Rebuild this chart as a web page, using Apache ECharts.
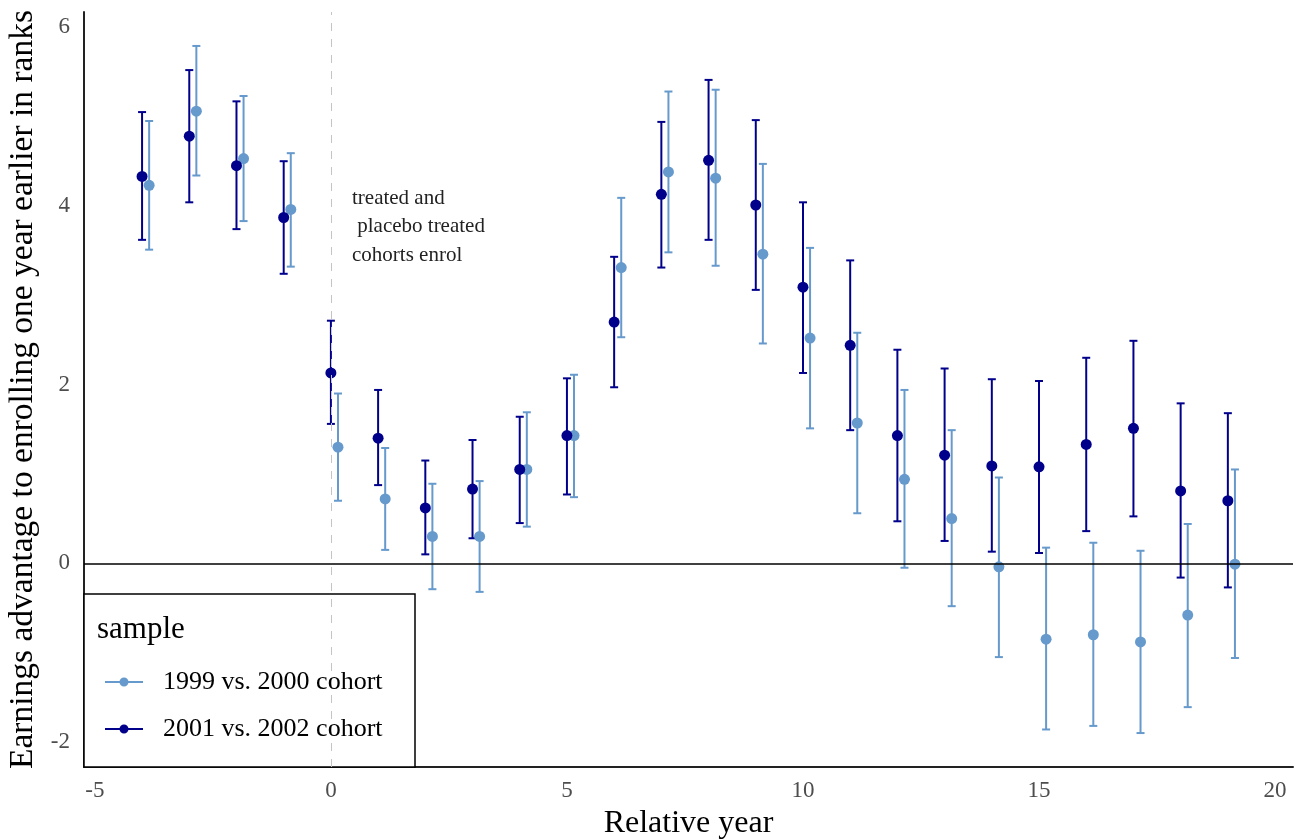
<!DOCTYPE html>
<html style="height: 100%">
<head>
    <meta charset="utf-8">
</head>
<body style="height: 100%; margin: 0">
<div id="container" style="width: 1302px; height: 839px"></div>
<script type="text/javascript" src="https://cdn.jsdelivr.net/npm/echarts@6/dist/echarts.min.js"></script>
<script type="text/javascript">
    // relative years
    var years = [-4, -3, -2, -1, 0, 1, 2, 3, 4, 5, 6, 7, 8, 9, 10, 11, 12, 13, 14, 15, 16, 17, 18, 19];

    // 1999 vs. 2000 cohort (placebo)
    var est9900 = [4.23, 5.06, 4.53, 3.96, 1.30, 0.72, 0.30, 0.30, 1.05, 1.43, 3.31, 4.38, 4.31, 3.46, 2.52, 1.57, 0.94, 0.50, -0.04, -0.85, -0.80, -0.88, -0.58, -0.01];
    var lo9900 = [3.51, 4.34, 3.83, 3.32, 0.70, 0.15, -0.29, -0.32, 0.41, 0.74, 2.53, 3.48, 3.33, 2.46, 1.51, 0.56, -0.05, -0.48, -1.05, -1.86, -1.82, -1.90, -1.61, -1.06];
    var hi9900 = [4.95, 5.79, 5.23, 4.59, 1.90, 1.29, 0.89, 0.92, 1.69, 2.11, 4.09, 5.28, 5.30, 4.47, 3.53, 2.58, 1.94, 1.49, 0.96, 0.175, 0.23, 0.14, 0.44, 1.05];

    // 2001 vs. 2002 cohort (treated)
    var est0102 = [4.33, 4.78, 4.45, 3.87, 2.13, 1.40, 0.62, 0.83, 1.05, 1.43, 2.70, 4.13, 4.51, 4.01, 3.09, 2.44, 1.43, 1.21, 1.09, 1.08, 1.33, 1.51, 0.81, 0.70];
    var lo0102 = [3.62, 4.04, 3.74, 3.24, 1.56, 0.875, 0.10, 0.28, 0.45, 0.77, 1.97, 3.31, 3.62, 3.06, 2.13, 1.49, 0.47, 0.25, 0.13, 0.115, 0.36, 0.525, -0.16, -0.27];
    var hi0102 = [5.05, 5.52, 5.17, 4.50, 2.715, 1.94, 1.15, 1.38, 1.64, 2.07, 3.43, 4.94, 5.41, 4.96, 4.04, 3.39, 2.39, 2.18, 2.06, 2.04, 2.30, 2.49, 1.79, 1.68];

    var xTicks = [-5, 0, 5, 10, 15, 20];
    var yTicks = [-2, 0, 2, 4, 6];

    var names = ['1999 vs. 2000 cohort', '2001 vs. 2002 cohort'];
    var LIGHT = '#6699cc';
    var DARK = '#00008b';
    var SHIFT = 0.15; // dodge for the placebo cohort
    var FONT = 'Liberation Serif';

    function points(est, shift) {
        return years.map(function (y, i) { return [y + shift, est[i]]; });
    }
    function bars(lo, hi, shift) {
        return years.map(function (y, i) { return [y + shift, lo[i], hi[i]]; });
    }

    function errorBar(color) {
        return function (params, api) {
            var top = api.coord([api.value(0), api.value(2)]);
            var bot = api.coord([api.value(0), api.value(1)]);
            var w = 4;
            var st = {stroke: color, lineWidth: 2};
            return {
                type: 'group',
                children: [
                    {type: 'line', shape: {x1: top[0], y1: top[1], x2: bot[0], y2: bot[1]}, style: st},
                    {type: 'line', shape: {x1: top[0] - w, y1: top[1], x2: top[0] + w, y2: top[1]}, style: st},
                    {type: 'line', shape: {x1: bot[0] - w, y1: bot[1], x2: bot[0] + w, y2: bot[1]}, style: st}
                ]
            };
        };
    }

    var icon = 'path://M0,3.6 L38,3.6 L38,5.4 L0,5.4 Z M23.5,4.5 A4.5,4.5 0 1,1 14.5,4.5 A4.5,4.5 0 1,1 23.5,4.5 Z';

    var dom = document.getElementById("container");
    var myChart = echarts.init(dom);
    var option = {
        animation: false,
        backgroundColor: '#fff',
        textStyle: {fontFamily: FONT},
        grid: {left: 84, right: 9, top: 12, bottom: 72, containLabel: false, outerBoundsMode: 'none'},
        xAxis: {
            type: 'value',
            min: -5.23, max: 20.38,
            name: 'Relative year',
            nameLocation: 'middle',
            nameGap: 41,
            nameTextStyle: {fontFamily: FONT, fontSize: 32, color: '#000'},
            axisLine: {onZero: false, lineStyle: {color: '#222', width: 2}},
            axisTick: {show: false},
            splitLine: {show: false},
            axisLabel: {customValues: xTicks, fontFamily: FONT, fontSize: 23, color: '#4d4d4d', margin: 12}
        },
        yAxis: {
            type: 'value',
            min: -2.28, max: 6.17,
            name: 'Earnings advantage to enrolling one year earlier in ranks',
            nameLocation: 'middle',
            nameGap: 27,
            nameTextStyle: {fontFamily: FONT, fontSize: 33.5, color: '#000'},
            axisLine: {onZero: false, lineStyle: {color: '#222', width: 2}},
            axisTick: {show: false},
            splitLine: {show: false},
            axisLabel: {customValues: yTicks, fontFamily: FONT, fontSize: 23, color: '#4d4d4d', margin: 14}
        },
        legend: {
            orient: 'vertical',
            left: 100,
            top: 664,
            data: names,
            icon: icon,
            itemWidth: 38,
            itemHeight: 9,
            itemGap: 21,
            z: 6,
            textStyle: {fontFamily: FONT, fontSize: 26, color: '#000', padding: [0, 0, 0, 15], lineHeight: 24}
        },
        graphic: [
            {type: 'rect', z: 5, shape: {x: 84, y: 594, width: 331, height: 173},
                style: {fill: '#fff', stroke: '#000', lineWidth: 1.5}},
            {type: 'text', z: 6, left: 97, top: 614,
                style: {text: 'sample', font: '31px "Liberation Serif"', fill: '#000'}},
            {type: 'text', z: 6, left: 352, top: 184,
                style: {text: 'treated and\n placebo treated\ncohorts enrol', font: '21px "Liberation Serif"',
                    fill: '#222', lineHeight: 28.5}}
        ],
        series: [
            {
                name: names[0], type: 'custom', z: 2,
                itemStyle: {color: LIGHT},
                renderItem: errorBar(LIGHT),
                data: bars(lo9900, hi9900, SHIFT),
                markLine: {
                    silent: true, symbol: 'none', label: {show: false},
                    lineStyle: {color: '#c4c4c4', type: [8, 8], width: 1},
                    data: [{xAxis: 0}]
                }
            },
            {
                name: names[1], type: 'custom', z: 3,
                itemStyle: {color: DARK},
                renderItem: errorBar(DARK),
                data: bars(lo0102, hi0102, 0),
                markLine: {
                    silent: true, symbol: 'none', label: {show: false},
                    lineStyle: {color: '#000', type: 'solid', width: 1.5},
                    data: [{yAxis: 0}]
                }
            },
            {
                name: names[0], type: 'scatter', z: 3,
                symbolSize: 11,
                itemStyle: {color: LIGHT, opacity: 1},
                data: points(est9900, SHIFT)
            },
            {
                name: names[1], type: 'scatter', z: 4,
                symbolSize: 11,
                itemStyle: {color: DARK, opacity: 1},
                data: points(est0102, 0)
            }
        ]
    };
    myChart.setOption(option);
</script>
</body>
</html>
